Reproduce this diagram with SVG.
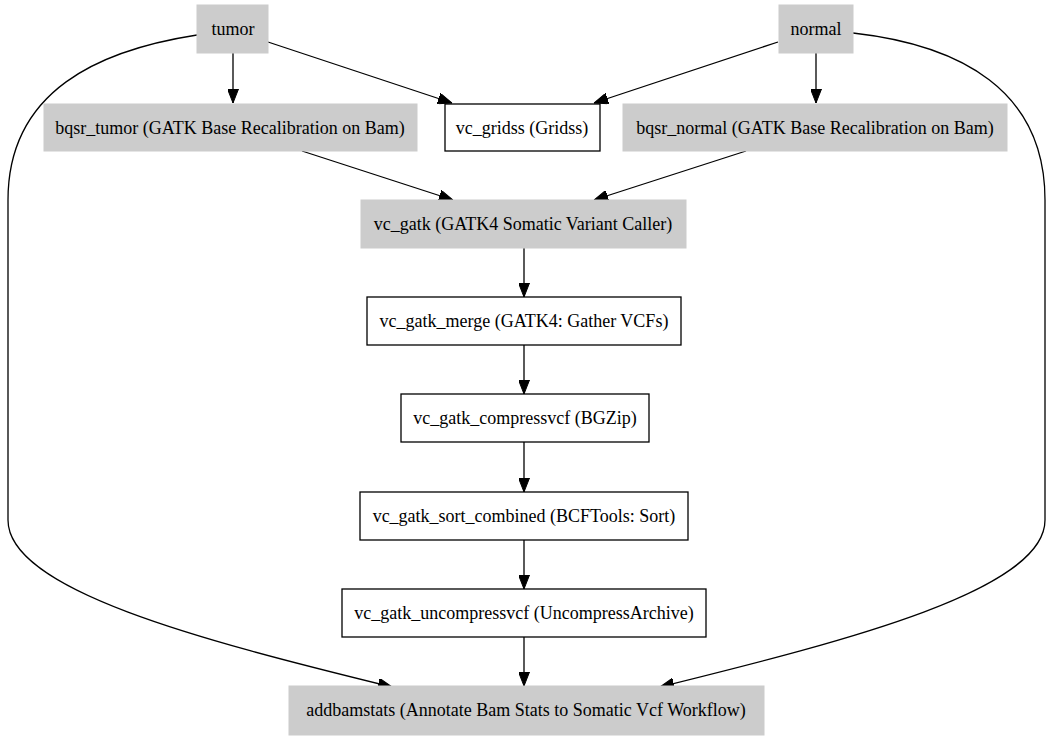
<svg xmlns="http://www.w3.org/2000/svg" width="1053" height="741" viewBox="0 0 1053 741">
<defs>
<style>
.g{fill:#cccccc;stroke:#cccccc;stroke-width:1}
.w{fill:#ffffff;stroke:#000000;stroke-width:1.3}
.t{font-family:'Liberation Serif',serif;font-size:18px;fill:#000;text-anchor:middle}
.e{fill:none;stroke:#000;stroke-width:1.3;marker-end:url(#ah)}
</style>
<marker id="ah" markerUnits="userSpaceOnUse" markerWidth="14" markerHeight="11" refX="14" refY="5.5" orient="auto">
<path d="M0,0 L14,5.5 L0,11 z" fill="#000" stroke="#000" stroke-width="1"/>
</marker>
</defs>
<rect width="1053" height="741" fill="#fff"/>
<g id="connectors">
<path class="e" d="M233,53 L233,103"/>
<path class="e" d="M268,42 L452,103"/>
<path class="e" d="M778,42 L594,103"/>
<path class="e" d="M816,53 L816,103"/>
<path class="e" d="M302,151 L453,200"/>
<path class="e" d="M746,151 L594,200"/>
<path class="e" d="M524,248 L524,297"/>
<path class="e" d="M524,345 L524,394"/>
<path class="e" d="M524,442 L524,492"/>
<path class="e" d="M524,540 L524,589"/>
<path class="e" d="M524,637 L524,686"/>
<path class="e" d="M197,35 C100,50 8,90 8,200 L8,520 C8,590 200,640 392,687"/>
<path class="e" d="M853,33 C960,45 1045,90 1045,200 L1045,520 C1045,590 850,640 660,687"/>
</g>
<g font-family="Liberation Serif, serif" font-size="18">
<g id="tumor"><rect class="g" x="197" y="5" width="71" height="48"/><text class="t" x="233" y="35">tumor</text></g>
<g id="normal"><rect class="g" x="779" y="5" width="74" height="48"/><text class="t" x="816" y="35">normal</text></g>
<g id="bqsr_tumor"><rect class="g" x="44" y="104" width="373" height="47"/><text class="t" x="230" y="134">bqsr_tumor (GATK Base Recalibration on Bam)</text></g>
<g id="vc_gridss"><rect class="w" x="445" y="104" width="155" height="47"/><text class="t" x="522" y="134">vc_gridss (Gridss)</text></g>
<g id="bqsr_normal"><rect class="g" x="623" y="104" width="384" height="47"/><text class="t" x="815" y="134">bqsr_normal (GATK Base Recalibration on Bam)</text></g>
<g id="vc_gatk"><rect class="g" x="361" y="200" width="325" height="48"/><text class="t" x="523" y="230">vc_gatk (GATK4 Somatic Variant Caller)</text></g>
<g id="vc_gatk_merge"><rect class="w" x="367" y="297" width="314" height="48"/><text class="t" x="524" y="327">vc_gatk_merge (GATK4: Gather VCFs)</text></g>
<g id="vc_gatk_compressvcf"><rect class="w" x="401" y="394" width="248" height="48"/><text class="t" x="525" y="424">vc_gatk_compressvcf (BGZip)</text></g>
<g id="vc_gatk_sort_combined"><rect class="w" x="360" y="492" width="328" height="48"/><text class="t" x="524" y="522">vc_gatk_sort_combined (BCFTools: Sort)</text></g>
<g id="vc_gatk_uncompressvcf"><rect class="w" x="342" y="589" width="364" height="48"/><text class="t" x="524" y="619">vc_gatk_uncompressvcf (UncompressArchive)</text></g>
<g id="addbamstats"><rect class="g" x="289" y="686" width="475" height="49"/><text class="t" x="526" y="716">addbamstats (Annotate Bam Stats to Somatic Vcf Workflow)</text></g>
</g>
</svg>
